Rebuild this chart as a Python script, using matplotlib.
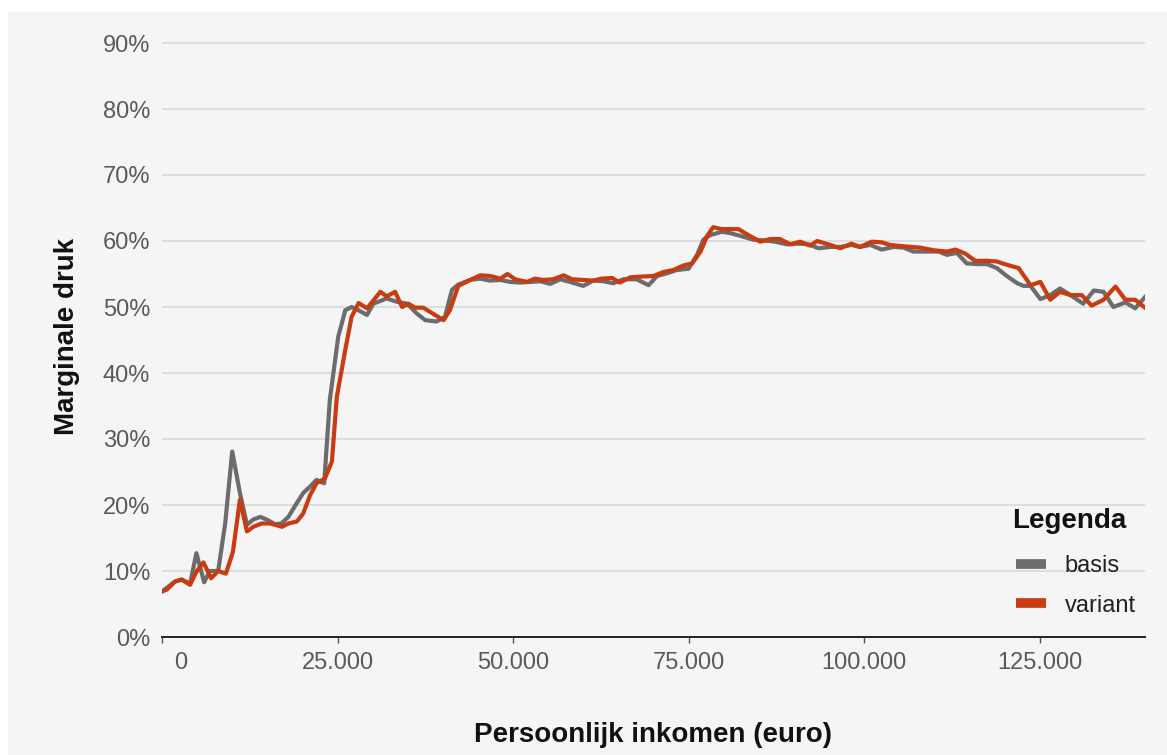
import matplotlib
matplotlib.use("Agg")
import matplotlib.pyplot as plt
from matplotlib.patches import Rectangle
from matplotlib.ticker import FuncFormatter, FixedLocator
from matplotlib.transforms import ScaledTranslation

plt.rcParams["font.family"] = ["Liberation Sans", "DejaVu Sans"]

# inkomen (euro) en marginale druk (%) - basis
inkomen_basis = [0, 1850, 2800, 4000, 4900, 6000, 6800, 8000, 9000, 10000,
                 11100, 12100, 13000, 14000, 14900, 16100, 17000, 18000, 19200, 20100,
                 21100, 22000, 23100, 23900, 25100, 26100, 27000, 28000, 29200, 30100,
                 32000, 33400, 34900, 36300, 37500, 39100, 40300, 41300, 42200, 43900,
                 45300, 46700, 48200, 49600, 51000, 52400, 53900, 55300, 56700, 58100,
                 60000, 61400, 62900, 64300, 65700, 67600, 69300, 70500, 71900, 73300,
                 75000, 76200, 77100, 78100, 79700, 80900, 82300, 84200, 85700, 87300,
                 89000, 90700, 92100, 93500, 95200, 96600, 98200, 99400, 100900, 102500,
                 104200, 105600, 107000, 108900, 110600, 111800, 113200, 114600, 116100, 117500,
                 118900, 120300, 121800, 122700, 123700, 125100, 126500, 127900, 129400, 131200,
                 132700, 134100, 135500, 137200, 138600, 140000]
basis = [6.9, 8.4, 8.7, 8.1, 12.7, 8.3, 10.0, 10.0, 17.2, 28.1,
         21.8, 17.0, 17.8, 18.2, 17.8, 17.1, 17.2, 18.2, 20.3, 21.8,
         22.8, 23.8, 23.3, 35.9, 45.5, 49.5, 50.0, 49.5, 48.8, 50.5,
         51.3, 50.8, 50.5, 49.0, 48.0, 47.8, 48.5, 52.6, 53.4, 54.1,
         54.3, 54.0, 54.1, 53.8, 53.7, 53.8, 53.9, 53.5, 54.2, 53.8,
         53.2, 54.0, 53.9, 53.6, 54.2, 54.2, 53.3, 54.7, 55.1, 55.6,
         55.8, 57.9, 60.2, 60.9, 61.4, 61.2, 60.8, 60.2, 60.1, 59.9,
         59.5, 59.6, 59.5, 58.9, 59.1, 59.1, 59.4, 59.1, 59.4, 58.7,
         59.1, 59.0, 58.4, 58.4, 58.4, 57.9, 58.2, 56.6, 56.5, 56.5,
         55.9, 54.7, 53.6, 53.2, 53.2, 51.2, 51.8, 52.8, 51.8, 50.5,
         52.5, 52.3, 50.0, 50.7, 49.8, 51.5]

# inkomen (euro) en marginale druk (%) - variant
inkomen_variant = [0, 700, 1850, 2800, 4000, 4900, 5900, 7000, 8000, 9100,
                   10100, 11100, 12100, 13000, 14200, 15400, 17100, 18000, 19200, 20100,
                   21100, 22000, 23200, 24200, 24900, 26100, 27000, 28000, 29200, 31100,
                   32000, 33200, 34200, 35100, 36000, 37200, 40100, 41000, 42200, 43900,
                   45300, 46700, 48200, 49200, 50300, 52000, 53100, 54300, 55700, 57200,
                   58400, 60000, 61400, 62600, 64100, 65200, 66700, 68100, 70000, 71400,
                   72800, 74300, 75500, 76700, 77600, 78500, 79700, 81200, 82100, 83500,
                   85200, 86600, 88000, 89500, 90900, 92300, 93300, 95200, 96600, 98200,
                   99400, 101100, 102500, 103700, 105600, 108000, 109900, 111800, 113000, 114400,
                   115800, 117500, 118900, 120300, 122000, 123700, 125100, 126500, 127900, 129400,
                   131000, 132400, 134100, 135800, 137200, 138600, 140000]
variant = [6.9, 7.2, 8.4, 8.7, 7.9, 9.9, 11.3, 8.9, 10.0, 9.6,
           12.9, 20.8, 16.0, 16.7, 17.2, 17.2, 16.7, 17.2, 17.5, 18.7,
           21.5, 23.3, 24.0, 26.6, 36.4, 43.5, 48.5, 50.6, 49.8, 52.3,
           51.6, 52.3, 50.0, 50.5, 49.9, 49.9, 48.0, 49.5, 53.2, 54.1,
           54.8, 54.7, 54.3, 55.0, 54.2, 53.8, 54.3, 54.1, 54.2, 54.8,
           54.2, 54.1, 54.0, 54.3, 54.4, 53.7, 54.5, 54.6, 54.7, 55.3,
           55.6, 56.3, 56.6, 58.4, 60.7, 62.1, 61.8, 61.8, 61.8, 60.9,
           59.9, 60.3, 60.3, 59.5, 59.9, 59.3, 60.0, 59.4, 58.9, 59.6,
           59.1, 59.9, 59.8, 59.4, 59.2, 59.0, 58.6, 58.4, 58.7, 58.1,
           57.0, 57.0, 56.9, 56.4, 55.9, 53.3, 53.8, 51.1, 52.3, 51.8,
           51.8, 50.2, 51.1, 53.1, 51.1, 51.1, 49.9]

x_ticks = [0, 25000, 50000, 75000, 100000, 125000]
y_ticks = [0, 10, 20, 30, 40, 50, 60, 70, 80, 90]

BG = "#f5f5f5"
W, H = 1167, 755

fig = plt.figure(figsize=(W / 100, H / 100), dpi=100, facecolor="white")
fig.patches.append(Rectangle((8 / W, 0), 1 - 8 / W, 1 - 12 / H,
                             transform=fig.transFigure, facecolor=BG,
                             edgecolor="none", zorder=-10))

left, right = 162 / W, 1145 / W
bottom = 1 - 637 / H
top_90 = 1 - 43 / H
ymax = 91
height = (top_90 - bottom) * ymax / 90
ax = fig.add_axes([left, bottom, right - left, height])
ax.set_facecolor(BG)

ax.plot(inkomen_basis, basis, color="#6c6c6c", linewidth=3.0, label="basis",
        solid_joinstyle="round", zorder=3)
ax.plot(inkomen_variant, variant, color="#c93b10", linewidth=3.0, label="variant",
        solid_joinstyle="round", zorder=4)

ax.set_xlim(0, 140000)
ax.set_ylim(0, ymax)
ax.yaxis.set_major_locator(FixedLocator(y_ticks))
ax.xaxis.set_major_locator(FixedLocator(x_ticks))
ax.yaxis.set_major_formatter(FuncFormatter(lambda v, p: f"{v:.0f}%"))
ax.xaxis.set_major_formatter(FuncFormatter(lambda v, p: f"{v:,.0f}".replace(",", ".")))

ax.grid(axis="y", color="#d9d9d9", linewidth=1.2)
ax.set_axisbelow(True)
for s in ["top", "right", "left"]:
    ax.spines[s].set_visible(False)
ax.spines["bottom"].set_color("#222222")
ax.spines["bottom"].set_linewidth(1.4)
ax.spines["bottom"].set_zorder(5)

ax.tick_params(axis="y", length=0, pad=8.5, labelsize=17, labelcolor="#5a5a5a")
ax.tick_params(axis="x", length=4, width=1, color="#555555", pad=7,
               labelsize=17, labelcolor="#5a5a5a")

# eerste label "0" iets naar rechts zoals in het origineel
lbl0 = ax.get_xticklabels()[0]
lbl0.set_transform(lbl0.get_transform() + ScaledTranslation(0.19, 0, fig.dpi_scale_trans))

ax.set_xlabel("Persoonlijk inkomen (euro)", fontsize=20, fontweight="bold",
              color="#111111", labelpad=34)
ax.set_ylabel("Marginale druk", fontsize=20, fontweight="bold",
              color="#111111", labelpad=16)

# legenda met titel links uitgelijnd
fig.text(1012 / W, 1 - 521 / H, "Legenda", fontsize=20, fontweight="bold",
         color="#111111", ha="left", va="center")
leg = ax.legend(loc="center left", bbox_to_anchor=(995 / W, 1 - 586 / H),
                bbox_transform=fig.transFigure, frameon=False, fontsize=17,
                handlelength=1.25, handletextpad=0.8, labelspacing=0.72)
for line in leg.get_lines():
    line.set_linewidth(7)
    line.set_solid_capstyle("butt")
for t in leg.get_texts():
    t.set_color("#222222")

plt.savefig("out.png", dpi=100, facecolor="white")
plt.close()
